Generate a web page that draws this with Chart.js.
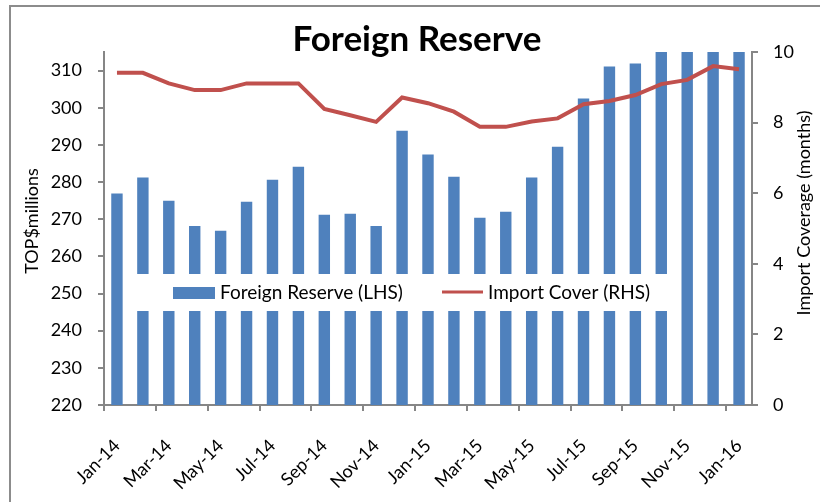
<!DOCTYPE html>
<html>
<head>
<meta charset="utf-8">
<script src="https://cdn.jsdelivr.net/npm/chart.js@4.4.1/dist/chart.umd.min.js"></script>
<style>
  html, body { margin: 0; padding: 0; background: #fff; }
  #wrap { position: relative; width: 820px; height: 502px; }
</style>
</head>
<body>
<div id="wrap"><canvas id="reserveChart" width="820" height="502"></canvas></div>
<script>
// data
const months = ['Jan-14', 'Feb-14', 'Mar-14', 'Apr-14', 'May-14', 'Jun-14', 'Jul-14', 'Aug-14', 'Sep-14', 'Oct-14', 'Nov-14', 'Dec-14',
  'Jan-15', 'Feb-15', 'Mar-15', 'Apr-15', 'May-15', 'Jun-15', 'Jul-15', 'Aug-15', 'Sep-15', 'Oct-15', 'Nov-15', 'Dec-15', 'Jan-16'];
const reserve = [276.9, 281.2, 275.0, 268.2, 266.9, 274.7, 280.6, 284.1, 271.2, 271.5, 268.2, 293.8,
  287.4, 281.4, 270.4, 272.0, 281.2, 289.5, 302.5, 311.1, 311.9, 318, 322, 326, 330];
const importCover = [9.41, 9.41, 9.11, 8.92, 8.92, 9.11, 9.11, 9.11, 8.39, 8.21, 8.02, 8.71,
  8.55, 8.31, 7.88, 7.88, 8.03, 8.12, 8.52, 8.61, 8.78, 9.09, 9.21, 9.60, 9.51];
const leftTicks = [220, 230, 240, 250, 260, 270, 280, 290, 300, 310];

const FONT = 'Lato, "Open Sans", sans-serif';
const axisGray = '#868686';
const barBlue = '#4F81BD';
const lineRed = '#C0504D';

Chart.defaults.font.family = FONT;
Chart.defaults.color = '#000';

function rotatedText(ctx, text, x, y, font) {
  ctx.save();
  ctx.translate(x, y);
  ctx.rotate(-Math.PI / 2);
  ctx.font = font;
  ctx.fillStyle = '#000';
  ctx.textAlign = 'center';
  ctx.textBaseline = 'middle';
  ctx.fillText(text, 0, 0);
  ctx.restore();
}

// frame, titles and the legend box that sits over the bars
const decorations = {
  id: 'decorations',
  beforeDraw(chart) {
    const ctx = chart.ctx;
    ctx.save();
    ctx.strokeStyle = '#8c8c8c';
    ctx.lineWidth = 2;
    ctx.beginPath();
    ctx.moveTo(10, 502);
    ctx.lineTo(10, 6);
    ctx.lineTo(820, 6);
    ctx.stroke();
    ctx.restore();
  },
  afterDatasetsDraw(chart) {
    const ctx = chart.ctx;
    ctx.save();
    ctx.fillStyle = '#fff';
    ctx.fillRect(130, 274, 551, 37);
    ctx.fillStyle = barBlue;
    ctx.fillRect(173, 287, 42, 12);
    ctx.strokeStyle = lineRed;
    ctx.lineWidth = 3;
    ctx.beginPath();
    ctx.moveTo(442, 292);
    ctx.lineTo(483, 292);
    ctx.stroke();
    ctx.fillStyle = '#000';
    ctx.font = '19px ' + FONT;
    ctx.textBaseline = 'middle';
    ctx.textAlign = 'left';
    ctx.fillText('Foreign Reserve (LHS)', 220, 293);
    ctx.fillText('Import Cover (RHS)', 488, 293);
    ctx.restore();
  },
  afterDraw(chart) {
    const ctx = chart.ctx;
    ctx.save();
    ctx.fillStyle = '#000';
    ctx.font = 'bold 35px ' + FONT;
    ctx.textAlign = 'center';
    ctx.textBaseline = 'alphabetic';
    ctx.fillText('Foreign Reserve', 417, 51);
    ctx.restore();

    rotatedText(ctx, 'TOP$millions', 32, 221, '18px ' + FONT);
    rotatedText(ctx, 'Import Coverage (months)', 804, 213, '18px ' + FONT);
  }
};

new Chart(document.getElementById('reserveChart'), {
  type: 'bar',
  data: {
    labels: months,
    datasets: [
      {
        type: 'line',
        label: 'Import Cover (RHS)',
        data: importCover,
        yAxisID: 'y1',
        borderColor: lineRed,
        borderWidth: 4,
        pointRadius: 0,
        tension: 0,
        order: 0
      },
      {
        label: 'Foreign Reserve (LHS)',
        data: reserve,
        yAxisID: 'y',
        backgroundColor: barBlue,
        barPercentage: 0.44,
        categoryPercentage: 1,
        order: 1
      }
    ]
  },
  options: {
    responsive: false,
    animation: false,
    layout: { padding: { top: 52, left: 0, right: 0, bottom: 0 } },
    plugins: {
      legend: { display: false },
      title: { display: false },
      tooltip: { enabled: false }
    },
    scales: {
      x: {
        offset: true,
        grid: {
          offset: true,
          drawOnChartArea: false,
          tickLength: 6,
          lineWidth: 2,
          color: (c) => (c.index % 2 === 0 ? axisGray : 'rgba(0,0,0,0)')
        },
        border: { color: axisGray, width: 2 },
        ticks: {
          autoSkip: false,
          minRotation: 45,
          maxRotation: 45,
          padding: 24,
          font: { size: 18 },
          callback: (v, i) => (i % 2 === 0 ? months[i] : '')
        },
        afterFit: (s) => { s.height = 97; }
      },
      y: {
        position: 'left',
        min: 220,
        max: 315,
        afterBuildTicks: (s) => { s.ticks = leftTicks.map((v) => ({ value: v })); },
        grid: { drawOnChartArea: false, tickLength: 6, lineWidth: 2, color: axisGray },
        border: { color: axisGray, width: 2 },
        ticks: { padding: 16, font: { size: 18 } },
        afterFit: (s) => { s.width = 104; }
      },
      y1: {
        position: 'right',
        min: 0,
        max: 10,
        ticks: { stepSize: 2, padding: 15, font: { size: 18 } },
        grid: { drawOnChartArea: false, tickLength: 6, lineWidth: 2, color: axisGray },
        border: { color: axisGray, width: 2 },
        afterFit: (s) => { s.width = 68; }
      }
    }
  },
  plugins: [decorations]
});
</script>
</body>
</html>
